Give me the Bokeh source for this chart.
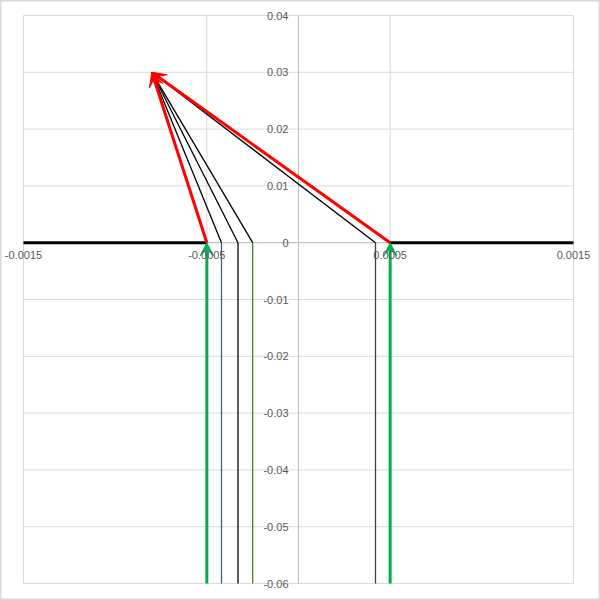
from bokeh.plotting import figure
from bokeh.models import ColumnDataSource, Arrow, VeeHead, LabelSet
from bokeh.core.properties import value
from bokeh.embed import file_html
from bokeh.resources import INLINE

# ---- data ----
x_min, x_max = -0.0015, 0.0015
y_min, y_max = -0.06, 0.04
x_ticks = [-0.0015, -0.0005, 0.0005, 0.0015]
x_tick_labels = ["-0.0015", "-0.0005", "0.0005", "0.0015"]
y_ticks = [-0.06, -0.05, -0.04, -0.03, -0.02, -0.01, 0.0, 0.01, 0.02, 0.03, 0.04]
y_tick_labels = ["-0.06", "-0.05", "-0.04", "-0.03", "-0.02", "-0.01", "0", "0.01", "0.02", "0.03", "0.04"]

focus_x = -0.0008
focus_y = 0.03
plane_y = 0.0
edge_x = [-0.0005, 0.0005]               # aperture edges (green / red rays)
ray_x = [-0.00042, -0.00033, -0.00025, 0.00042]   # thin rays
plane_left = [x_min, -0.0005]
plane_right = [0.0005, x_max]

# ---- styles / layout ----
ray_vert_colors = ["#41647a", "#000000", "#4f7f26", "#404040"]
grid_color = "#d9d9d9"
axis_color = "#bfbfbf"
label_color = "#595959"
font = "Liberation Sans"
font_size = "11px"
W, H = 600, 600
pad_l, pad_r, pad_t, pad_b = 23, 27, 15, 17   # pixels between figure edge and plot box

dx = (x_max - x_min) / (W - pad_l - pad_r)
dy = (y_max - y_min) / (H - pad_t - pad_b)
xr = (x_min - pad_l * dx, x_max + pad_r * dx)
yr = (y_min - pad_b * dy, y_max + pad_t * dy)

p = figure(width=W, height=H, output_backend="svg", toolbar_location=None,
           x_range=xr, y_range=yr, x_axis_type=None, y_axis_type=None,
           min_border=0)
p.outline_line_color = grid_color
p.outline_line_width = 2
p.grid.visible = False
p.background_fill_color = "white"
p.border_fill_color = "white"

# grid lines, bounded to the plot box
p.segment(x_ticks, [y_min] * len(x_ticks), x_ticks, [y_max] * len(x_ticks),
          line_color=grid_color, line_width=1)
p.segment([x_min] * len(y_ticks), y_ticks, [x_max] * len(y_ticks), y_ticks,
          line_color=grid_color, line_width=1)
# axis lines crossing at 0
p.segment([0.0], [y_min], [0.0], [y_max], line_color=axis_color, line_width=1)
p.segment([x_min], [0.0], [x_max], [0.0], line_color=axis_color, line_width=1)

# thin rays
n = len(ray_x)
diag = ColumnDataSource(dict(x0=[focus_x] * n, y0=[focus_y] * n, x1=ray_x, y1=[plane_y] * n))
p.segment("x0", "y0", "x1", "y1", source=diag, line_color="black", line_width=1.3)
vert = ColumnDataSource(dict(x0=ray_x, y0=[plane_y] * n, x1=ray_x, y1=[y_min] * n, c=ray_vert_colors))
p.segment("x0", "y0", "x1", "y1", source=vert, line_color="c", line_width=1.3)

# thick plane segments
p.line(plane_left, [plane_y, plane_y], line_color="black", line_width=3)
p.line(plane_right, [plane_y, plane_y], line_color="black", line_width=3)

# green arrows (incoming)
m = len(edge_x)
g_src = ColumnDataSource(dict(xs=edge_x, ys=[y_min] * m, xe=edge_x, ye=[plane_y] * m))
p.add_layout(Arrow(source=g_src, x_start="xs", y_start="ys", x_end="xe", y_end="ye",
                   line_color="#00b050", line_width=3,
                   end=VeeHead(size=13, fill_color="#00b050", line_color="#00b050", line_width=1)))

# red arrows (to focus)
r_src = ColumnDataSource(dict(xs=edge_x, ys=[plane_y] * m, xe=[focus_x] * m, ye=[focus_y] * m))
p.add_layout(Arrow(source=r_src, x_start="xs", y_start="ys", x_end="xe", y_end="ye",
                   line_color="#ff0000", line_width=3,
                   end=VeeHead(size=14, fill_color="#ff0000", line_color="#ff0000", line_width=1)))

# tick labels
xl = ColumnDataSource(dict(x=x_ticks, y=[0.0] * len(x_ticks), t=x_tick_labels))
p.add_layout(LabelSet(source=xl, x="x", y="y", text="t", text_align="center", text_baseline="top",
                      y_offset=-8, text_font=value(font), text_font_size=value(font_size),
                      text_color=label_color))
yl = ColumnDataSource(dict(x=[0.0] * len(y_ticks), y=y_ticks, t=y_tick_labels))
p.add_layout(LabelSet(source=yl, x="x", y="y", text="t", text_align="right", text_baseline="middle",
                      x_offset=-10, text_font=value(font), text_font_size=value(font_size),
                      text_color=label_color))

open("out.html", "w").write(file_html(p, INLINE))
